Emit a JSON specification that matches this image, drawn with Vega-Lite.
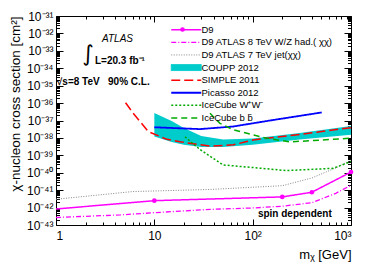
{
  "$schema": "https://vega.github.io/schema/vega-lite/v6.json",
  "width": 295,
  "height": 209,
  "autosize": {"type": "none"},
  "padding": {"left": 56, "top": 16, "right": 23, "bottom": 44},
  "background": "white",
  "config": {
    "view": {"stroke": "black", "strokeWidth": 1},
    "font": "Liberation Sans",
    "axis": {"domain": false, "grid": false, "tickColor": "black", "labelColor": "black", "labelFont": "Liberation Sans", "labelFontSize": 12, "titleFont": "Liberation Sans", "titleFontWeight": "normal", "titleFontSize": 13, "titleColor": "black", "labelOverlap": false}
  },
  "resolve": {"axis": {"x": "independent", "y": "independent"}},
  "datasets": {
    "lines": [
      {"series": "D9", "x": 1, "y": 8.3e-43},
      {"series": "D9", "x": 10, "y": 2.5e-42},
      {"series": "D9", "x": 200, "y": 4.1e-42},
      {"series": "D9", "x": 400, "y": 7.6e-42},
      {"series": "D9", "x": 1000, "y": 1.1e-40},
      {"series": "D9 ATLAS 8 TeV W/Z had.( χχ)", "x": 1, "y": 2.7e-43},
      {"series": "D9 ATLAS 8 TeV W/Z had.( χχ)", "x": 4.5, "y": 3.8e-43},
      {"series": "D9 ATLAS 8 TeV W/Z had.( χχ)", "x": 10, "y": 5.1e-43},
      {"series": "D9 ATLAS 8 TeV W/Z had.( χχ)", "x": 37, "y": 7.9e-43},
      {"series": "D9 ATLAS 8 TeV W/Z had.( χχ)", "x": 100, "y": 9.5e-43},
      {"series": "D9 ATLAS 8 TeV W/Z had.( χχ)", "x": 200, "y": 1.2e-42},
      {"series": "D9 ATLAS 8 TeV W/Z had.( χχ)", "x": 400, "y": 1.9e-42},
      {"series": "D9 ATLAS 8 TeV W/Z had.( χχ)", "x": 700, "y": 6.6e-42},
      {"series": "D9 ATLAS 8 TeV W/Z had.( χχ)", "x": 1000, "y": 1.9e-41},
      {"series": "D9 ATLAS 7 TeV jet(χχ)", "x": 1, "y": 3.0e-42},
      {"series": "D9 ATLAS 7 TeV jet(χχ)", "x": 6, "y": 8.3e-42},
      {"series": "D9 ATLAS 7 TeV jet(χχ)", "x": 37, "y": 1.1e-41},
      {"series": "D9 ATLAS 7 TeV jet(χχ)", "x": 200, "y": 1.8e-41},
      {"series": "D9 ATLAS 7 TeV jet(χχ)", "x": 400, "y": 5.0e-41},
      {"series": "D9 ATLAS 7 TeV jet(χχ)", "x": 700, "y": 1.9e-40},
      {"series": "D9 ATLAS 7 TeV jet(χχ)", "x": 1000, "y": 5.4e-40},
      {"series": "SIMPLE 2011", "x": 5.1, "y": 1.05e-36},
      {"series": "SIMPLE 2011", "x": 6.1, "y": 2.6e-37},
      {"series": "SIMPLE 2011", "x": 8.7, "y": 2.3e-38},
      {"series": "SIMPLE 2011", "x": 13.4, "y": 8.3e-39},
      {"series": "SIMPLE 2011", "x": 18.2, "y": 6.0e-39},
      {"series": "SIMPLE 2011", "x": 36.8, "y": 3.4e-39},
      {"series": "SIMPLE 2011", "x": 63.6, "y": 4.0e-39},
      {"series": "SIMPLE 2011", "x": 101, "y": 7.6e-39},
      {"series": "SIMPLE 2011", "x": 303, "y": 1.6e-38},
      {"series": "SIMPLE 2011", "x": 1000, "y": 3.9e-38},
      {"series": "Picasso 2012", "x": 10, "y": 4.1e-38},
      {"series": "Picasso 2012", "x": 29, "y": 3.2e-38},
      {"series": "Picasso 2012", "x": 63, "y": 4.5e-38},
      {"series": "Picasso 2012", "x": 162, "y": 1.07e-37},
      {"series": "Picasso 2012", "x": 504, "y": 2.9e-37},
      {"series": "IceCube W⁺W⁻", "x": 20.5, "y": 1.15e-38},
      {"series": "IceCube W⁺W⁻", "x": 29, "y": 2.2e-39},
      {"series": "IceCube W⁺W⁻", "x": 50, "y": 2.8e-40},
      {"series": "IceCube W⁺W⁻", "x": 100, "y": 2.0e-40},
      {"series": "IceCube W⁺W⁻", "x": 221, "y": 1.33e-40},
      {"series": "IceCube W⁺W⁻", "x": 660, "y": 1.8e-40},
      {"series": "IceCube W⁺W⁻", "x": 1000, "y": 4.4e-40},
      {"series": "IceCube b b̄", "x": 36.8, "y": 2.6e-37},
      {"series": "IceCube b b̄", "x": 46.5, "y": 6.9e-38},
      {"series": "IceCube b b̄", "x": 63.6, "y": 2.9e-38},
      {"series": "IceCube b b̄", "x": 139, "y": 9.6e-39},
      {"series": "IceCube b b̄", "x": 240, "y": 5.9e-39},
      {"series": "IceCube b b̄", "x": 1000, "y": 9.6e-39}
    ],
    "coupp": [
      {"series": "COUPP 2012", "x": 10, "lo": 1.2e-38, "hi": 2.7e-37},
      {"series": "COUPP 2012", "x": 15, "lo": 5.9e-39, "hi": 9.3e-38},
      {"series": "COUPP 2012", "x": 20, "lo": 4.0e-39, "hi": 3.7e-38},
      {"series": "COUPP 2012", "x": 30, "lo": 3.0e-39, "hi": 1.3e-38},
      {"series": "COUPP 2012", "x": 50, "lo": 3.0e-39, "hi": 8.1e-39},
      {"series": "COUPP 2012", "x": 100, "lo": 4.0e-39, "hi": 9.3e-39},
      {"series": "COUPP 2012", "x": 300, "lo": 8.1e-39, "hi": 1.9e-38},
      {"series": "COUPP 2012", "x": 1000, "lo": 1.5e-38, "hi": 4.8e-38}
    ],
    "notes": [
      {"x": 2.94, "y": 4.5e-33, "text": "ATLAS", "style": "italic"},
      {"x": 2.12, "y": 6.5e-34, "text": "∫", "style": "int"},
      {"x": 2.49, "y": 2.5e-34, "text": "L=20.3 fb⁻¹", "style": "bold"},
      {"x": 1.02, "y": 1.6e-35, "text": "√s=8 TeV\u00a0\u00a0\u00a090% C.L.", "style": "bold"},
      {"x": 113, "y": 4.3e-43, "text": "spin dependent", "style": "bold"}
    ]
  },
  "layer": [
    {
      "data": {"name": "coupp"},
      "mark": {"type": "area", "opacity": 1, "clip": true, "color": "#00cccc"},
      "encoding": {
        "x": {"field": "x", "type": "quantitative", "scale": {"type": "log", "domain": [1, 1000], "nice": false},
          "axis": {"orient": "bottom", "tickCount": 10, "title": "mᵪ [GeV]", "titleAnchor": "end", "titlePadding": 4,
            "tickSize": {"condition": {"test": "abs(log(datum.value)/LN10 - round(log(datum.value)/LN10)) < 0.01", "value": -6}, "value": -3},
            "labelPadding": 11,
            "labelExpr": "abs(log(datum.value)/LN10 - round(log(datum.value)/LN10)) < 0.01 ? (round(log(datum.value)/LN10) == 0 ? '1' : round(log(datum.value)/LN10) == 1 ? '10' : round(log(datum.value)/LN10) == 2 ? '10²' : '10³') : ''"}},
        "y": {"field": "hi", "type": "quantitative", "scale": {"type": "log", "domain": [1e-43, 1e-31], "nice": false},
          "axis": {"orient": "left", "tickCount": 20, "title": "χ-nucleon cross section [cm²]", "titleAnchor": "end", "titleX": -34, "titleFontSize": 13.5,
            "tickSize": {"condition": {"test": "abs(log(datum.value)/LN10 - round(log(datum.value)/LN10)) < 0.01", "value": -7}, "value": -3.5},
            "labelPadding": 10,
            "labelExpr": "abs(log(datum.value)/LN10 - round(log(datum.value)/LN10)) < 0.01 ? '10⁻' + ['⁰','¹','²','³','⁴','⁵','⁶','⁷','⁸','⁹'][floor(-round(log(datum.value)/LN10)/10)] + ['⁰','¹','²','³','⁴','⁵','⁶','⁷','⁸','⁹'][(-round(log(datum.value)/LN10))%10] : ''"}},
        "y2": {"field": "lo"}
      }
    },
    {
      "data": {"name": "lines"},
      "mark": {"type": "line", "clip": true},
      "encoding": {
        "x": {"field": "x", "type": "quantitative", "axis": {"orient": "top", "tickCount": 10, "labels": false, "title": null,
            "tickSize": {"condition": {"test": "abs(log(datum.value)/LN10 - round(log(datum.value)/LN10)) < 0.01", "value": -6}, "value": -3}}},
        "y": {"field": "y", "type": "quantitative", "axis": {"orient": "right", "tickCount": 20, "labels": false, "title": null,
            "tickSize": {"condition": {"test": "abs(log(datum.value)/LN10 - round(log(datum.value)/LN10)) < 0.01", "value": -7}, "value": -3.5}}},
        "color": {"field": "series", "type": "nominal",
          "scale": {"domain": ["D9", "D9 ATLAS 8 TeV W/Z had.( χχ)", "D9 ATLAS 7 TeV jet(χχ)", "COUPP 2012", "SIMPLE 2011", "Picasso 2012", "IceCube W⁺W⁻", "IceCube b b̄"],
            "range": ["#ff00ff", "#ff00ff", "#888888", "#00cccc", "#ff0000", "#0000ff", "#00aa00", "#00aa00"]},
          "legend": {"orient": "none", "legendX": 125.5, "legendY": 9, "title": null, "symbolType": "M-10,0H10", "symbolSize": 9, "labelFontSize": 9.5, "labelFont": "Liberation Sans", "labelColor": "black", "labelOffset": 10.5, "rowPadding": 1.6, "padding": 0, "labelLimit": 300,
            "encode": {"symbols": {"update": {
              "shape": [{"test": "datum.value === 'COUPP 2012'", "value": "M-10,-2H10V2H-10Z"}, {"value": "M-10,0H10"}],
              "fill": [{"test": "datum.value === 'COUPP 2012'", "value": "#00cccc"}, {"value": "transparent"}]}}}}},
        "strokeDash": {"field": "series", "type": "nominal",
          "scale": {"domain": ["D9", "D9 ATLAS 8 TeV W/Z had.( χχ)", "D9 ATLAS 7 TeV jet(χχ)", "COUPP 2012", "SIMPLE 2011", "Picasso 2012", "IceCube W⁺W⁻", "IceCube b b̄"],
            "range": [[1, 0], [5, 2, 1, 2], [1, 1.5], [1, 0], [9, 4], [1, 0], [2, 2], [6, 4]]}},
        "strokeWidth": {"field": "series", "type": "nominal",
          "scale": {"type": "ordinal", "domain": ["D9", "D9 ATLAS 8 TeV W/Z had.( χχ)", "D9 ATLAS 7 TeV jet(χχ)", "COUPP 2012", "SIMPLE 2011", "Picasso 2012", "IceCube W⁺W⁻", "IceCube b b̄"],
            "range": [1.5, 1.3, 1, 1, 1.5, 1.8, 1.5, 1.5]}}
      }
    },
    {
      "data": {"name": "lines"},
      "transform": [{"filter": "datum.series == 'D9' && datum.x > 1"}],
      "mark": {"type": "point", "filled": true, "color": "#ff00ff", "size": 22, "opacity": 1, "clip": false},
      "encoding": {
        "x": {"field": "x", "type": "quantitative", "axis": null},
        "y": {"field": "y", "type": "quantitative", "axis": null},
        "shape": {"field": "series", "type": "nominal", "scale": {"domain": ["D9"], "range": ["circle"]},
          "legend": {"orient": "none", "legendX": 124, "legendY": 11, "title": null, "labelOpacity": 0, "labelFontSize": 1, "padding": 0, "symbolSize": 22, "symbolFillColor": "#ff00ff", "symbolStrokeColor": "#ff00ff", "symbolStrokeWidth": 0}}
      }
    },
    {
      "data": {"name": "notes"},
      "transform": [{"filter": "datum.style == 'italic'"}],
      "mark": {"type": "text", "align": "left", "baseline": "middle", "fontStyle": "italic", "fontSize": 10, "font": "Liberation Sans", "color": "black"},
      "encoding": {"x": {"field": "x", "type": "quantitative", "axis": null}, "y": {"field": "y", "type": "quantitative", "axis": null}, "text": {"field": "text"}}
    },
    {
      "data": {"name": "notes"},
      "transform": [{"filter": "datum.style == 'bold'"}],
      "mark": {"type": "text", "align": "left", "baseline": "middle", "fontWeight": "bold", "fontSize": 10, "font": "Liberation Sans", "color": "black"},
      "encoding": {"x": {"field": "x", "type": "quantitative", "axis": null}, "y": {"field": "y", "type": "quantitative", "axis": null}, "text": {"field": "text"}}
    },
    {
      "data": {"name": "notes"},
      "transform": [{"filter": "datum.style == 'int'"}],
      "mark": {"type": "text", "align": "center", "baseline": "middle", "fontSize": 22, "font": "DejaVu Sans", "color": "black"},
      "encoding": {"x": {"field": "x", "type": "quantitative", "axis": null}, "y": {"field": "y", "type": "quantitative", "axis": null}, "text": {"field": "text"}}
    }
  ]
}
